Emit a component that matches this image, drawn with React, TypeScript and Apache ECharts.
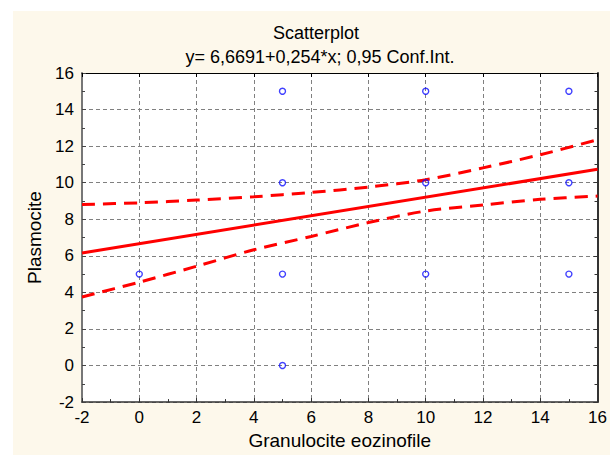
import React, { useEffect, useRef } from "react";
import * as echarts from "echarts";

const pointX = [0, 5, 5, 5, 5, 10, 10, 10, 15, 15, 15];
const pointY = [5, 15, 10, 5, 0, 15, 10, 5, 15, 10, 5];

const regX = [-2, 16];
const regY = [6.16, 10.73];

const bandX = [-2, 0, 2, 4, 6, 8, 10, 12, 14, 16];
const upperY = [8.81, 8.9, 9.05, 9.23, 9.47, 9.76, 10.16, 10.81, 11.53, 12.35];
const lowerY = [3.75, 4.56, 5.43, 6.33, 7.06, 7.82, 8.45, 8.78, 9.09, 9.27];

const FONT = "'Liberation Sans', Arial, sans-serif";

export default function App() {
  const ref = useRef<HTMLDivElement>(null);
  useEffect(() => {
    if (!ref.current) return;
    const chart = echarts.init(ref.current, null, { renderer: "svg" });
    const red = "#ff0000";
    const gridLine = { show: true, lineStyle: { color: "#808080", type: [4, 3] as any, width: 1 } };
    chart.setOption({
      animation: false,
      backgroundColor: "#fdf8eb",
      graphic: [
        { type: "rect", shape: { x: 0, y: 0, width: 610, height: 11 }, style: { fill: "#ffffff" } },
        { type: "rect", shape: { x: 0, y: 0, width: 13, height: 455 }, style: { fill: "#ffffff" } },
      ],
      title: [
        {
          text: "Scatterplot",
          left: 311,
          top: 19,
          textAlign: "center",
          textStyle: { fontFamily: FONT, fontSize: 18, fontWeight: "normal", color: "#000" },
        },
        {
          text: "y= 6,6691+0,254*x; 0,95 Conf.Int.",
          left: 315,
          top: 43,
          textAlign: "center",
          textStyle: { fontFamily: FONT, fontSize: 18, fontWeight: "normal", color: "#000" },
        },
      ],
      grid: {
        left: 82,
        top: 73,
        width: 520,
        height: 331,
        show: true,
        backgroundColor: "#ffffff",
        borderWidth: 0,
      },
      xAxis: [
        {
          type: "value",
          position: "bottom",
          min: -2,
          max: 16,
          interval: 2,
          name: "Granulocite eozinofile",
          nameLocation: "middle",
          nameGap: 27,
          nameTextStyle: { fontFamily: FONT, fontSize: 19, color: "#000" },
          axisLine: { show: true, onZero: false, lineStyle: { color: "#333", width: 1.5 } },
          axisTick: { show: true, inside: true, length: 4, lineStyle: { color: "#333" } },
          minorTick: { show: true, splitNumber: 2, length: 3, lineStyle: { color: "#333" } },
          axisLabel: { fontFamily: FONT, fontSize: 17, color: "#000", margin: 7 },
          splitLine: gridLine,
        },
        {
          type: "value",
          position: "top",
          min: -2,
          max: 16,
          interval: 2,
          axisLine: { show: true, onZero: false, lineStyle: { color: "#000", width: 1 } },
          axisTick: { show: true, inside: true, length: 4, lineStyle: { color: "#000" } },
          axisLabel: { show: false },
          splitLine: { show: false },
        },
      ],
      yAxis: [
        {
          type: "value",
          position: "left",
          min: -2,
          max: 16,
          interval: 2,
          name: "Plasmocite",
          nameLocation: "middle",
          nameGap: 38,
          nameTextStyle: { fontFamily: FONT, fontSize: 19, color: "#000" },
          axisLine: { show: true, onZero: false, lineStyle: { color: "#777", width: 2 } },
          axisTick: { show: true, inside: true, length: 4, lineStyle: { color: "#444" } },
          minorTick: { show: true, splitNumber: 2, length: 3, lineStyle: { color: "#444" } },
          axisLabel: { fontFamily: FONT, fontSize: 17, color: "#000", margin: 8 },
          splitLine: gridLine,
        },
        {
          type: "value",
          position: "right",
          min: -2,
          max: 16,
          interval: 2,
          axisLine: { show: true, onZero: false, lineStyle: { color: "#333", width: 2 } },
          axisTick: { show: true, inside: true, length: 4, lineStyle: { color: "#333" } },
          minorTick: { show: true, splitNumber: 2, length: 3, lineStyle: { color: "#333" } },
          axisLabel: { show: false },
          splitLine: { show: false },
        },
      ],
      series: [
        {
          type: "line",
          data: regX.map((x, i) => [x, regY[i]]),
          showSymbol: false,
          lineStyle: { color: red, width: 3 },
          z: 3,
        },
        {
          type: "line",
          data: bandX.map((x, i) => [x, upperY[i]]),
          showSymbol: false,
          smooth: 0.3,
          lineStyle: { color: red, width: 3, type: [13, 8] as any },
          z: 3,
        },
        {
          type: "line",
          data: bandX.map((x, i) => [x, lowerY[i]]),
          showSymbol: false,
          smooth: 0.3,
          lineStyle: { color: red, width: 3, type: [13, 8] as any },
          z: 3,
        },
        {
          type: "scatter",
          data: pointX.map((x, i) => [x, pointY[i]]),
          symbol: "circle",
          symbolSize: 6,
          itemStyle: { color: "rgba(0,0,0,0)", borderColor: "#1010ff", borderWidth: 1.4 },
          z: 4,
        },
      ],
    });
    return () => chart.dispose();
  }, []);
  return (
    <div
      ref={ref}
      style={{ position: "absolute", left: 0, top: 0, width: 610, height: 455 }}
    />
  );
}
